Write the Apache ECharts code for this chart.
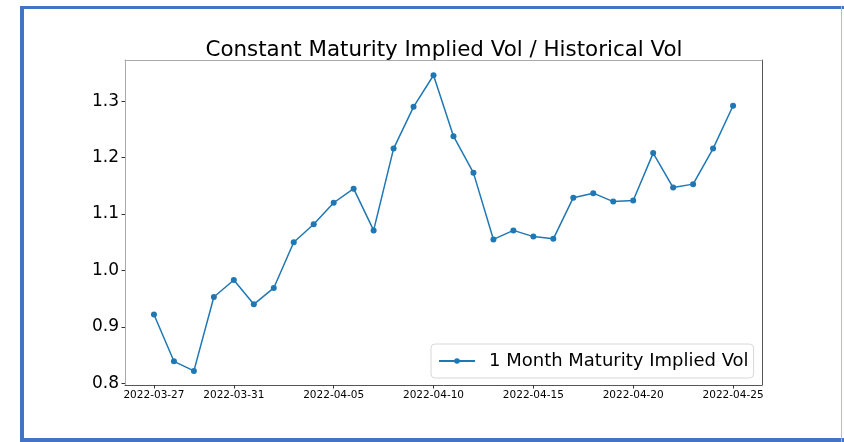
<!DOCTYPE html>
<html>
<head>
<meta charset="utf-8">
<script src="https://cdn.jsdelivr.net/npm/echarts@6/dist/echarts.min.js"></script>
<style>
html, body { margin: 0; padding: 0; background: #fff; }
#chart { width: 844px; height: 442px; }
</style>
</head>
<body>
<div id="chart"></div>
<script>
// dates on the x axis, one point per day
const dates = [
  '2022-03-27', '2022-03-28', '2022-03-29', '2022-03-30', '2022-03-31',
  '2022-04-01', '2022-04-02', '2022-04-03', '2022-04-04', '2022-04-05',
  '2022-04-06', '2022-04-07', '2022-04-08', '2022-04-09', '2022-04-10',
  '2022-04-11', '2022-04-12', '2022-04-13', '2022-04-14', '2022-04-15',
  '2022-04-16', '2022-04-17', '2022-04-18', '2022-04-19', '2022-04-20',
  '2022-04-21', '2022-04-22', '2022-04-23', '2022-04-24', '2022-04-25'
];
// implied vol / historical vol ratio
const impliedVol = [
  0.922, 0.839, 0.822, 0.953, 0.983,
  0.940, 0.969, 1.050, 1.082, 1.120,
  1.145, 1.071, 1.216, 1.290, 1.346,
  1.238, 1.173, 1.055, 1.071, 1.060,
  1.056, 1.129, 1.137, 1.122, 1.124,
  1.208, 1.147, 1.153, 1.216, 1.292
];
const xTickLabels = ['2022-03-27', '2022-03-31', '2022-04-05', '2022-04-10', '2022-04-15', '2022-04-20', '2022-04-25'];
const yTickLabels = [0.8, 0.9, 1.0, 1.1, 1.2, 1.3];

// x is the day number counted from the first date
const xTicks = xTickLabels.map(d => dates.indexOf(d));
const xMin = -1.45;
const xMax = dates.length - 1 + 1.45;
const yMin = 0.797;
const yMax = 1.373;

const font = 'DejaVu Sans';
const blue = '#4472c4';

const chart = echarts.init(document.getElementById('chart'));

chart.setOption({
  animation: false,
  textStyle: { fontFamily: font, color: '#000' },
  title: {
    text: 'Constant Maturity Implied Vol / Historical Vol',
    left: 439,
    textAlign: 'center',
    top: 35,
    textStyle: { fontFamily: font, fontSize: 21.4, fontWeight: 'normal', color: '#000' }
  },
  // blue frame round the picture
  graphic: [
    { type: 'rect', shape: { x: 20, y: 6, width: 4, height: 436 }, style: { fill: blue } },
    { type: 'rect', shape: { x: 20, y: 6, width: 824, height: 3 }, style: { fill: blue } },
    { type: 'rect', shape: { x: 20, y: 438, width: 824, height: 4 }, style: { fill: blue } },
    { type: 'rect', shape: { x: 841, y: 6, width: 1, height: 436 }, style: { fill: '#a9bde6' } }
  ],
  grid: { left: 125, right: 82, top: 60, bottom: 57 },
  legend: {
    data: ['1 Month Maturity Implied Vol'],
    left: 431,
    top: 344,
    orient: 'vertical',
    backgroundColor: '#fff',
    borderColor: '#d8d8d8',
    borderWidth: 1,
    borderRadius: 4,
    padding: [8, 5, 8, 7],
    itemWidth: 36,
    itemHeight: 7,
    textStyle: { fontFamily: font, fontSize: 18, color: '#000', padding: [0, 0, 0, 9] }
  },
  xAxis: [
    {
      type: 'value',
      min: xMin,
      max: xMax,
      axisLine: { show: true, onZero: false, lineStyle: { color: '#555', width: 1 } },
      axisTick: { show: true, length: 3.5, customValues: xTicks, lineStyle: { color: '#333' } },
      axisLabel: {
        customValues: xTicks,
        margin: 5,
        fontFamily: font,
        fontSize: 10.5,
        color: '#000',
        formatter: v => dates[Math.round(v)] || ''
      },
      splitLine: { show: false }
    },
    {
      type: 'value',
      position: 'top',
      min: xMin,
      max: xMax,
      axisLine: { show: true, onZero: false, lineStyle: { color: '#aaa', width: 1 } },
      axisTick: { show: false },
      axisLabel: { show: false },
      splitLine: { show: false }
    }
  ],
  yAxis: [
    {
      type: 'value',
      min: yMin,
      max: yMax,
      axisLine: { show: true, onZero: false, lineStyle: { color: '#aaa', width: 1 } },
      axisTick: { show: true, length: 3.5, customValues: yTickLabels, lineStyle: { color: '#333' } },
      axisLabel: {
        customValues: yTickLabels,
        margin: 6,
        fontFamily: font,
        fontSize: 17,
        color: '#000',
        formatter: v => v.toFixed(1)
      },
      splitLine: { show: false }
    },
    {
      type: 'value',
      position: 'right',
      min: yMin,
      max: yMax,
      axisLine: { show: true, onZero: false, lineStyle: { color: '#555', width: 1 } },
      axisTick: { show: false },
      axisLabel: { show: false },
      splitLine: { show: false }
    }
  ],
  series: [
    {
      name: '1 Month Maturity Implied Vol',
      type: 'line',
      data: dates.map((d, i) => [i, impliedVol[i]]),
      symbol: 'circle',
      symbolSize: 6,
      showAllSymbol: true,
      color: '#1f77b4',
      lineStyle: { width: 1.5, color: '#1f77b4' },
      itemStyle: { color: '#1f77b4' }
    }
  ]
});
</script>
</body>
</html>
